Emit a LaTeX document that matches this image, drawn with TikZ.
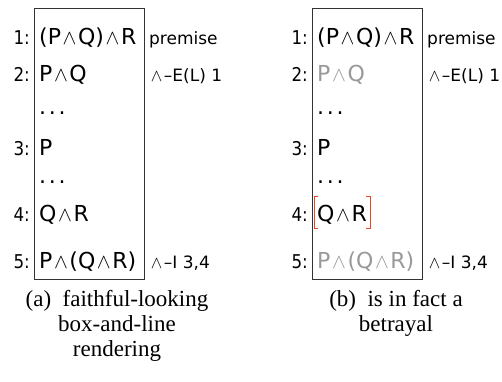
\documentclass[tikz,border=0pt]{standalone}
\usepackage{fontspec}
\setmainfont{Liberation Serif}
\newfontfamily\prooffont{DejaVu Sans}
\newfontfamily\numfont[FakeStretch=0.88]{DejaVu Sans}
\usetikzlibrary{calc}
\definecolor{greytext}{HTML}{999999}
\definecolor{bracketred}{HTML}{EE4422}
\definecolor{boxline}{HTML}{333333}
\newcommand{\vdotsrow}{.\hspace{2.7pt}.\hspace{2.7pt}.}
\newcommand{\andsym}{\hspace{1.6pt}$\mathord{\wedge}$\hspace{1.6pt}}
\begin{document}
\begin{tikzpicture}[x=1pt,y=-1pt,
  formula/.style={anchor=base west, inner sep=0pt, font=\prooffont\fontsize{22}{24}\selectfont},
  linenum/.style={anchor=base east, inner sep=0pt, font=\numfont\fontsize{19}{22}\selectfont},
  justif/.style={anchor=base west, inner sep=0pt, font=\prooffont\fontsize{17}{20}\selectfont},
  proofbox/.style={draw=boxline, line width=1pt, anchor=north west, minimum width=110pt, minimum height=271pt, inner sep=0pt},
  capt/.style={anchor=north, align=center, inner sep=0pt, font=\fontsize{23}{25}\selectfont},
  faded/.style={text=greytext},
  bracketline/.style={draw=bracketred, line width=0.9pt}]
\useasboundingbox (0,0) rectangle (502,381);

% ---------- (a) ----------
\node[proofbox] (boxa) at (34,8) {};
\node[linenum] (na1) at (30,44) {1:};
\node[formula] (fa1) at (39,44) {(P\andsym Q)\andsym R};
\node[justif] (ja1) at (149,44) {premise};
\node[linenum] (na2) at (30,81) {2:};
\node[formula] (fa2) at (39,81) {P\andsym Q};
\node[justif] (ja2) at (149,81) {\andsym–E(L) 1};
\node[formula] (da1) at (39,114) {\vdotsrow};
\node[linenum] (na3) at (30,155) {3:};
\node[formula] (fa3) at (39,155) {P};
\node[formula] (da2) at (39,183) {\vdotsrow};
\node[linenum] (na4) at (30,221) {4:};
\node[formula] (fa4) at (39,221) {Q\andsym R};
\node[linenum] (na5) at (30,268) {5:};
\node[formula] (fa5) at (39,268) {P\andsym(Q\andsym R)};
\node[justif] (ja5) at (149,268) {\andsym–I 3,4};
\node[capt] (capa) at (117,290) {(a)\enspace faithful-looking\\box-and-line\\rendering};

% ---------- (b) ----------
\node[proofbox] (boxb) at (312,8) {};
\node[linenum] (nb1) at (308,44) {1:};
\node[formula] (fb1) at (317,44) {(P\andsym Q)\andsym R};
\node[justif] (jb1) at (427,44) {premise};
\node[linenum] (nb2) at (308,81) {2:};
\node[formula,faded] (fb2) at (317,81) {P\andsym Q};
\node[justif] (jb2) at (427,81) {\andsym–E(L) 1};
\node[formula] (db1) at (317,114) {\vdotsrow};
\node[linenum] (nb3) at (308,155) {3:};
\node[formula] (fb3) at (317,155) {P};
\node[formula] (db2) at (317,183) {\vdotsrow};
\node[linenum] (nb4) at (308,221) {4:};
\node[formula] (fb4) at (317,221) {Q\andsym R};
\node[linenum] (nb5) at (308,268) {5:};
\node[formula,faded] (fb5) at (317,268) {P\andsym(Q\andsym R)};
\node[justif] (jb5) at (427,268) {\andsym–I 3,4};
\node[capt] (capb) at (396,290) {(b)\enspace is in fact a\\betrayal};

% red bracket around Q∧R
\coordinate (brtl) at ($(fb4.base west)+(-3,-25)$);
\coordinate (brbl) at ($(fb4.base west)+(-3,7)$);
\coordinate (brtr) at ($(fb4.base east)+(3,-25)$);
\coordinate (brbr) at ($(fb4.base east)+(3,7)$);
\draw[bracketline] ($(brtl)+(4,0)$) -- (brtl) -- (brbl) -- ($(brbl)+(4,0)$);
\draw[bracketline] ($(brtr)+(-4,0)$) -- (brtr) -- (brbr) -- ($(brbr)+(-4,0)$);
\end{tikzpicture}
\end{document}
